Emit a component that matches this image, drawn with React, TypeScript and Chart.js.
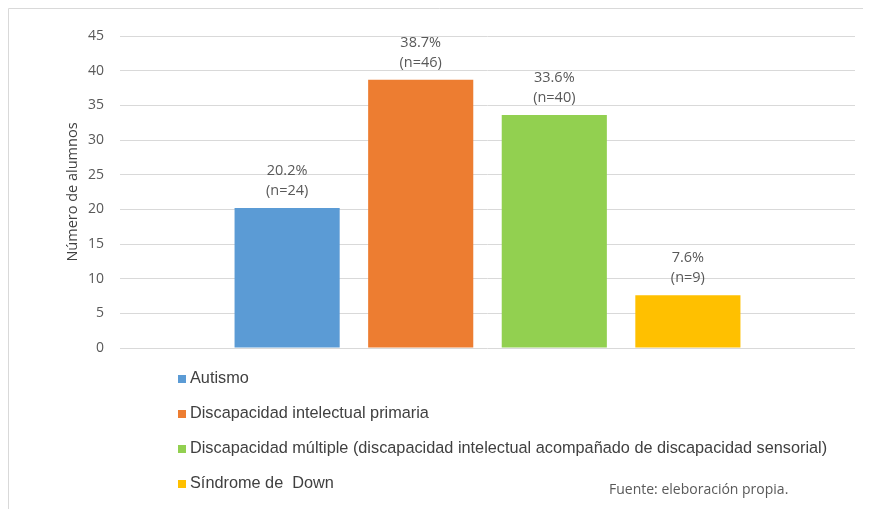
import React, { useEffect, useRef } from "react";
import { Chart, registerables } from "chart.js";

Chart.register(...registerables);

const seriesLabels = [
  "Autismo",
  "Discapacidad intelectual primaria",
  "Discapacidad múltiple (discapacidad intelectual acompañado de discapacidad sensorial)",
  "Síndrome de  Down",
];
const percentValues = [20.2, 38.7, 33.6, 7.6];
const counts = [24, 46, 40, 9];
const seriesColors = ["#5B9BD5", "#ED7D31", "#92D050", "#FFC000"];
const yTitle = "Número de alumnos";
const sourceNote = "Fuente: eleboración propia.";

const W = 863;
const H = 501;

const decorPlugin = {
  id: "decor",
  beforeDraw(chart: any) {
    const ctx = chart.ctx;
    ctx.save();
    ctx.strokeStyle = "#d9d9d9";
    ctx.lineWidth = 1;
    ctx.beginPath();
    ctx.moveTo(0.5, H);
    ctx.lineTo(0.5, 0.5);
    ctx.lineTo(W, 0.5);
    ctx.stroke();
    ctx.restore();
  },
  afterDraw(chart: any) {
    const ctx = chart.ctx;
    ctx.save();
    // data labels
    ctx.fillStyle = "#595959";
    ctx.font = "14.5px 'Open Sans', sans-serif";
    ctx.textAlign = "center";
    ctx.textBaseline = "middle";
    chart.data.datasets.forEach((ds: any, i: number) => {
      const meta = chart.getDatasetMeta(i);
      const bar = meta.data[0];
      if (!bar) return;
      ctx.fillText(percentValues[i].toFixed(1) + "%", bar.x, bar.y - 37);
      ctx.fillText("(n=" + counts[i] + ")", bar.x, bar.y - 17);
    });
    // legend
    ctx.font = "16.3px 'Liberation Sans', Arial, sans-serif";
    ctx.textAlign = "left";
    chart.data.datasets.forEach((ds: any, i: number) => {
      const y = 371 + i * 35;
      ctx.fillStyle = ds.backgroundColor;
      ctx.fillRect(170, y - 4, 8, 8);
      ctx.fillStyle = "#404040";
      ctx.fillText(ds.label, 182, y);
    });
    // source
    ctx.fillStyle = "#595959";
    ctx.font = "14px 'Open Sans', sans-serif";
    ctx.fillText(sourceNote, 601, 482);
    ctx.restore();
  },
};

export default function App() {
  const ref = useRef<HTMLCanvasElement | null>(null);
  useEffect(() => {
    if (!ref.current) return;
    const chart = new Chart(ref.current, {
      type: "bar",
      data: {
        labels: [""],
        datasets: seriesLabels.map((label, i) => ({
          label,
          data: [percentValues[i]],
          backgroundColor: seriesColors[i],
          categoryPercentage: 0.727,
          barPercentage: 0.787,
        })),
      },
      options: {
        animation: false,
        responsive: false,
        layout: { padding: { left: 0, top: 28, right: 16, bottom: 161 } },
        plugins: {
          legend: { display: false },
          tooltip: { enabled: false },
        },
        scales: {
          x: { display: false },
          y: {
            min: 0,
            max: 45,
            ticks: {
              stepSize: 5,
              padding: 16,
              color: "#595959",
              font: { family: "'Open Sans', sans-serif", size: 14 },
            },
            grid: { color: "#d9d9d9", drawTicks: false, lineWidth: 1 },
            border: { display: false },
            title: {
              display: true,
              text: yTitle,
              color: "#404040",
              font: { family: "'Open Sans', sans-serif", size: 14.5 },
              padding: { top: 56, bottom: 0 },
            },
            afterFit(scale: any) {
              scale.width = 112;
            },
          },
        },
      },
      plugins: [decorPlugin],
    });
    return () => chart.destroy();
  }, []);
  return (
    <div style={{ width: W, height: H }}>
      <canvas ref={ref} width={W} height={H} style={{ display: "block" }} />
    </div>
  );
}
